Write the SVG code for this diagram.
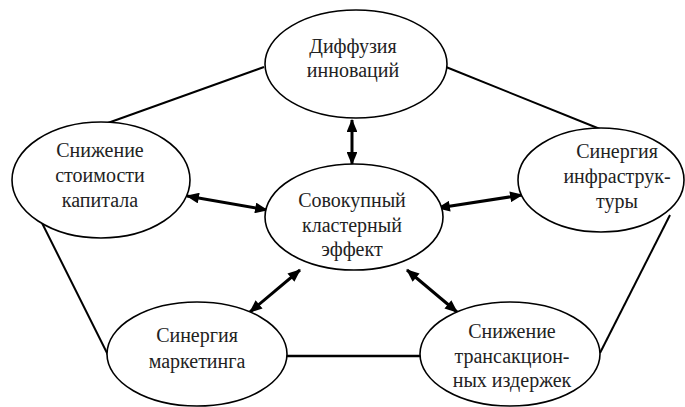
<svg xmlns="http://www.w3.org/2000/svg" width="685" height="407" viewBox="0 0 685 407">
<defs>
<style>
.n{fill:#fff;stroke:#000;stroke-width:1.6}
.t{font-family:"Liberation Serif","DejaVu Serif",serif;font-size:20px;fill:#222;text-anchor:middle}
.o{stroke:#000;stroke-width:2;fill:none}
.a{stroke:#000;stroke-width:3;fill:none;marker-start:url(#h);marker-end:url(#h)}
</style>
<marker id="h" viewBox="0 0 12 10" refX="11" refY="5" markerWidth="4.5" markerHeight="3.6" orient="auto-start-reverse" markerUnits="strokeWidth">
<path d="M0,0 L12,5 L0,10 z" fill="#000"/>
</marker>
</defs>
<rect width="685" height="407" fill="#fff"/>
<g id="connectors">
<line class="o" x1="264" y1="67" x2="105" y2="124"/>
<line class="o" x1="446" y1="67" x2="600" y2="129"/>
<line class="o" x1="38" y1="215" x2="108" y2="355"/>
<line class="o" x1="670" y1="215" x2="600" y2="353"/>
<line class="o" x1="286" y1="356" x2="421" y2="356" style="stroke-width:2.5"/>
<line class="a" x1="352" y1="120" x2="352" y2="164"/>
<line class="a" x1="187" y1="196" x2="267" y2="210"/>
<line class="a" x1="438" y1="208" x2="522" y2="195"/>
<line class="a" x1="300" y1="270" x2="250" y2="312"/>
<line class="a" x1="407" y1="270" x2="457" y2="312"/>
</g>
<g id="diffusion">
<ellipse class="n" cx="356" cy="64" rx="91" ry="54"/>
<text class="t" x="353" y="53">Диффузия</text>
<text class="t" x="353" y="77">инноваций</text>
</g>
<g id="capital">
<ellipse class="n" cx="101" cy="180" rx="89" ry="58"/>
<text class="t" x="100" y="157">Снижение</text>
<text class="t" x="100" y="182">стоимости</text>
<text class="t" x="100" y="207">капитала</text>
</g>
<g id="infra">
<ellipse class="n" cx="601" cy="180" rx="83" ry="52"/>
<text class="t" x="617" y="158">Синергия</text>
<text class="t" x="617" y="183">инфраструк-</text>
<text class="t" x="617" y="208">туры</text>
</g>
<g id="center">
<ellipse class="n" cx="354" cy="217" rx="89" ry="53"/>
<text class="t" x="352" y="207">Совокупный</text>
<text class="t" x="352" y="232">кластерный</text>
<text class="t" x="352" y="256">эффект</text>
</g>
<g id="marketing">
<ellipse class="n" cx="197" cy="354" rx="90" ry="52"/>
<text class="t" x="197" y="342">Синергия</text>
<text class="t" x="197" y="368">маркетинга</text>
</g>
<g id="transaction">
<ellipse class="n" cx="510" cy="354" rx="90" ry="52"/>
<text class="t" x="512" y="338">Снижение</text>
<text class="t" x="512" y="363">трансакцион-</text>
<text class="t" x="512" y="387">ных издержек</text>
</g>
</svg>
